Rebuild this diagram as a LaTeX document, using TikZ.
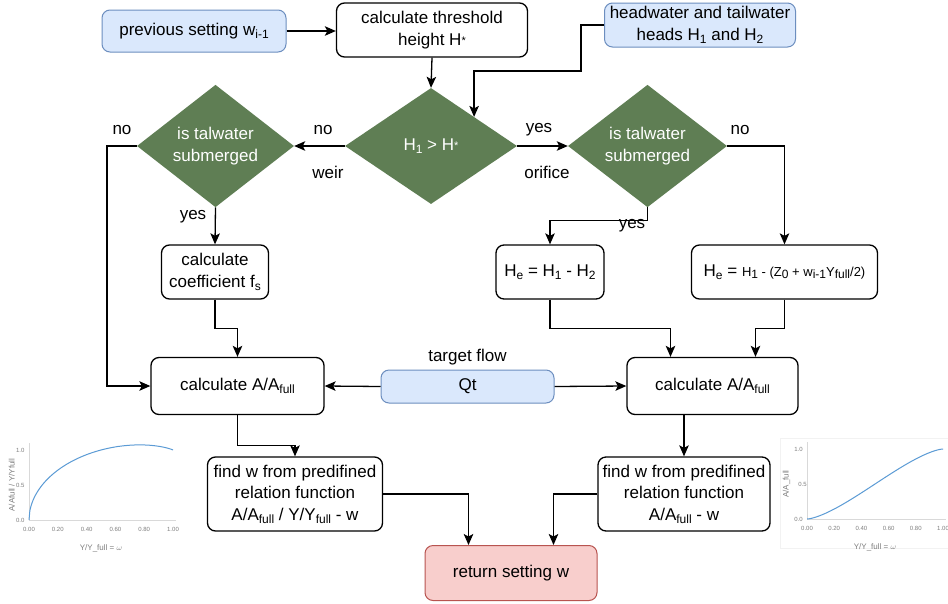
\documentclass[tikz,border=0pt]{standalone}
\usepackage{fontspec}
\setmainfont{Liberation Sans}
\usetikzlibrary{shapes.geometric,arrows.meta}

\definecolor{inputfill}{HTML}{DAE8FC}
\definecolor{inputline}{HTML}{6C8EBF}
\definecolor{endfill}{HTML}{F8CECC}
\definecolor{endline}{HTML}{B85450}
\definecolor{decfill}{HTML}{5F7E54}
\definecolor{curveblue}{HTML}{5B9BD5}
\definecolor{axisgray}{HTML}{D9D9D9}
\definecolor{ticktext}{HTML}{7F7F7F}

% lowered small text for indices
\newcommand\lowtxt[1]{\raisebox{-0.32ex}{\fontsize{12}{12}\selectfont #1}}
\newcommand\hstar{\raisebox{0.1ex}{\fontsize{11}{11}\selectfont *}}

\tikzset{
  base/.style={font=\fontsize{17}{21.5}\selectfont, align=center, inner sep=2pt},
  box/.style={base, draw=black, line width=1.3pt, rounded corners=8pt, fill=white},
  inbox/.style={box, draw=inputline, fill=inputfill, line width=1pt},
  outbox/.style={box, draw=endline, fill=endfill, line width=1pt},
  dec/.style={base, diamond, fill=decfill, text=white, inner sep=0pt},
  lbl/.style={base},
  arr/.style={line width=1.3pt, -{Stealth[length=11pt,width=9.5pt,inset=2.5pt]}},
  tick/.style={font=\fontsize{6}{6}\selectfont, text=ticktext, inner sep=0pt},
  axtitle/.style={font=\fontsize{8}{8}\selectfont, text=ticktext, inner sep=0pt},
}

\begin{document}
\begin{tikzpicture}[x=1pt,y=-1pt]
\useasboundingbox[fill=white] (0,0) rectangle (948,603);

% ---- inputs and threshold
\node[inbox, minimum width=184pt, minimum height=42pt] (prev) at (194,31) {previous setting w\lowtxt{i-1}};
\node[box, minimum width=191pt, minimum height=54pt] (thr) at (432,30) {calculate threshold\\height H\hstar};
\node[inbox, minimum width=191pt, minimum height=44pt] (hw) at (700,25) {headwater and tailwater\\heads H\lowtxt{1} and H\lowtxt{2}};

% ---- decisions
\node[dec, minimum width=172pt, minimum height=116pt] (md) at (431,146) {H\lowtxt{1} > H\hstar};
\node[dec, minimum width=157pt, minimum height=116pt] (ld) at (215.5,146) {is talwater\\submerged};
\node[dec, minimum width=159pt, minimum height=116pt] (rd) at (647.5,146) {is talwater\\submerged};

% ---- intermediate computations
\node[box, minimum width=107pt, minimum height=54pt] (coef) at (215,272) {calculate\\coefficient f\lowtxt{s}};
\node[box, minimum width=108pt, minimum height=54pt] (he1) at (550,272) {H\lowtxt{e} = H\lowtxt{1} - H\lowtxt{2}};
\node[box, minimum width=186pt, minimum height=54pt] (he2) at (784.5,272)
  {H\lowtxt{e} = {\fontsize{13}{13}\selectfont H\lowtxt{1} - (Z\lowtxt{0} + w\lowtxt{i-1}Y\lowtxt{full}/2)}};

\node[box, minimum width=173pt, minimum height=57pt] (cal) at (237.5,386) {calculate A/A\lowtxt{full}};
\node[inbox, minimum width=173pt, minimum height=33pt] (qt) at (467.5,386.5) {Qt};
\node[lbl] (tf) at (467.5,357) {target flow};
\node[box, minimum width=171pt, minimum height=57pt] (car) at (712.5,386) {calculate A/A\lowtxt{full}};

\node[box, minimum width=175pt, minimum height=74pt] (fl) at (295,494) {find w from predifined\\relation function\\A/A\lowtxt{full} / Y/Y\lowtxt{full} - w};
\node[box, minimum width=172pt, minimum height=74pt] (fr) at (684,494) {find w from predifined\\relation function\\A/A\lowtxt{full} - w};

\node[outbox, minimum width=172pt, minimum height=55pt] (ret) at (511,573) {return setting w};

% ---- branch labels
\node[lbl] (l1) at (122,130) {no};
\node[lbl] (l2) at (323,130) {no};
\node[lbl] (l3) at (328,172) {weir};
\node[lbl] (l4) at (539,130) {yes};
\node[lbl] (l5) at (547,172) {orifice};
\node[lbl] (l6) at (740,130) {no};
\node[lbl] (l7) at (193,217) {yes};
\node[lbl] (l8) at (632,226) {yes};

% ---- connectors
\draw[arr] (prev.east) -- (prev.east -| thr.west);
\draw[arr] (thr.south) -- (md.north);
\draw[arr] (hw.west) -| (581,71) -| (md.north east);
\draw[arr] (md.west) -- (ld.east);
\draw[arr] (md.east) -- (rd.west);
\draw[arr] (ld.west) -| (107,300) |- (cal.west);
\draw[arr] (ld.south) -- (coef.north);
\draw[arr] (rd.south) -- ++(0,13) -| (he1.north);
\draw[arr] (rd.east) -| (he2.north);
\draw[arr] (coef.south) -- ++(0,29) -| (cal.north);
\draw[arr] (he1.south) -- ++(0,29) -| ([xshift=-42pt]car.north);
\draw[arr] (he2.south) -- ++(0,29) -| ([xshift=43pt]car.north);
\draw[arr] (qt.west) -- (cal.east);
\draw[arr] (qt.east) -- (car.west);
\draw[arr] (cal.south) -- ++(0,30) -| (fl.north);
\draw[arr] (car.south -| fr.north) -- (fr.north);
\draw[arr] (fl.east) -| ([xshift=-42.5pt]ret.north);
\draw[arr] (fr.west) -| ([xshift=42.5pt]ret.north);

% ---- chart: A/Afull / Y/Yfull against Y/Yfull
\begin{scope}[shift={(29,520)}, x=144pt, y=70pt]
  \draw[axisgray, line width=0.6pt] (0,0) -- (0,1.1);
  \draw[axisgray, line width=0.6pt] (0,0) -- (1.02,0);
  \foreach \v in {0.0,0.5,1.0}
    \node[tick, anchor=east] at (-0.03,\v) {\v};
  \foreach \v/\s in {0/0.00,0.2/0.20,0.4/0.40,0.6/0.60,0.8/0.80,1/1.00}
    \node[tick] at (\v,-0.14) {\s};
  \node[axtitle] at (0.5,-0.4) {Y/Y\_full = $\omega$};
  \node[axtitle, rotate=90] at (-0.12,0.5) {A/Afull / Y/Yfull};
  \draw[curveblue, line width=1pt] (0,0) -- plot[domain=0.3:6.2832, samples=120, variable=\t, smooth]
    ({(1-cos(deg(\t/2)))/2}, {(\t - sin(deg(\t)))/(3.14159*(1-cos(deg(\t/2))))});
\end{scope}

% ---- chart: A/Afull against Y/Yfull
\begin{scope}[shift={(807,519)}, x=136pt, y=70pt]
  \draw[black!5, line width=0.5pt] (-0.2,-0.42) rectangle (1.2,1.15);
  \draw[axisgray, line width=0.6pt] (0,0) -- (0,1.1);
  \draw[axisgray, line width=0.6pt] (0,0) -- (1.02,0);
  \node[tick, anchor=east] at (-0.03,0) {0.0};
  \node[tick, anchor=east] at (0.0,0.5) {0.5};
  \node[tick, anchor=east] at (-0.03,1) {1.0};
  \foreach \v/\s in {0/0.00,0.2/0.20,0.4/0.40,0.6/0.60,0.8/0.80,1/1.00}
    \node[tick] at (\v,-0.14) {\s};
  \node[axtitle] at (0.5,-0.4) {Y/Y\_full = $\omega$};
  \node[axtitle, rotate=90] at (-0.15,0.5) {A/A\_full};
  \draw[curveblue, line width=1pt] plot[domain=0:6.2832, samples=100, variable=\t, smooth]
    ({(1-cos(deg(\t/2)))/2}, {(\t - sin(deg(\t)))/6.28319});
\end{scope}
\end{tikzpicture}
\end{document}
